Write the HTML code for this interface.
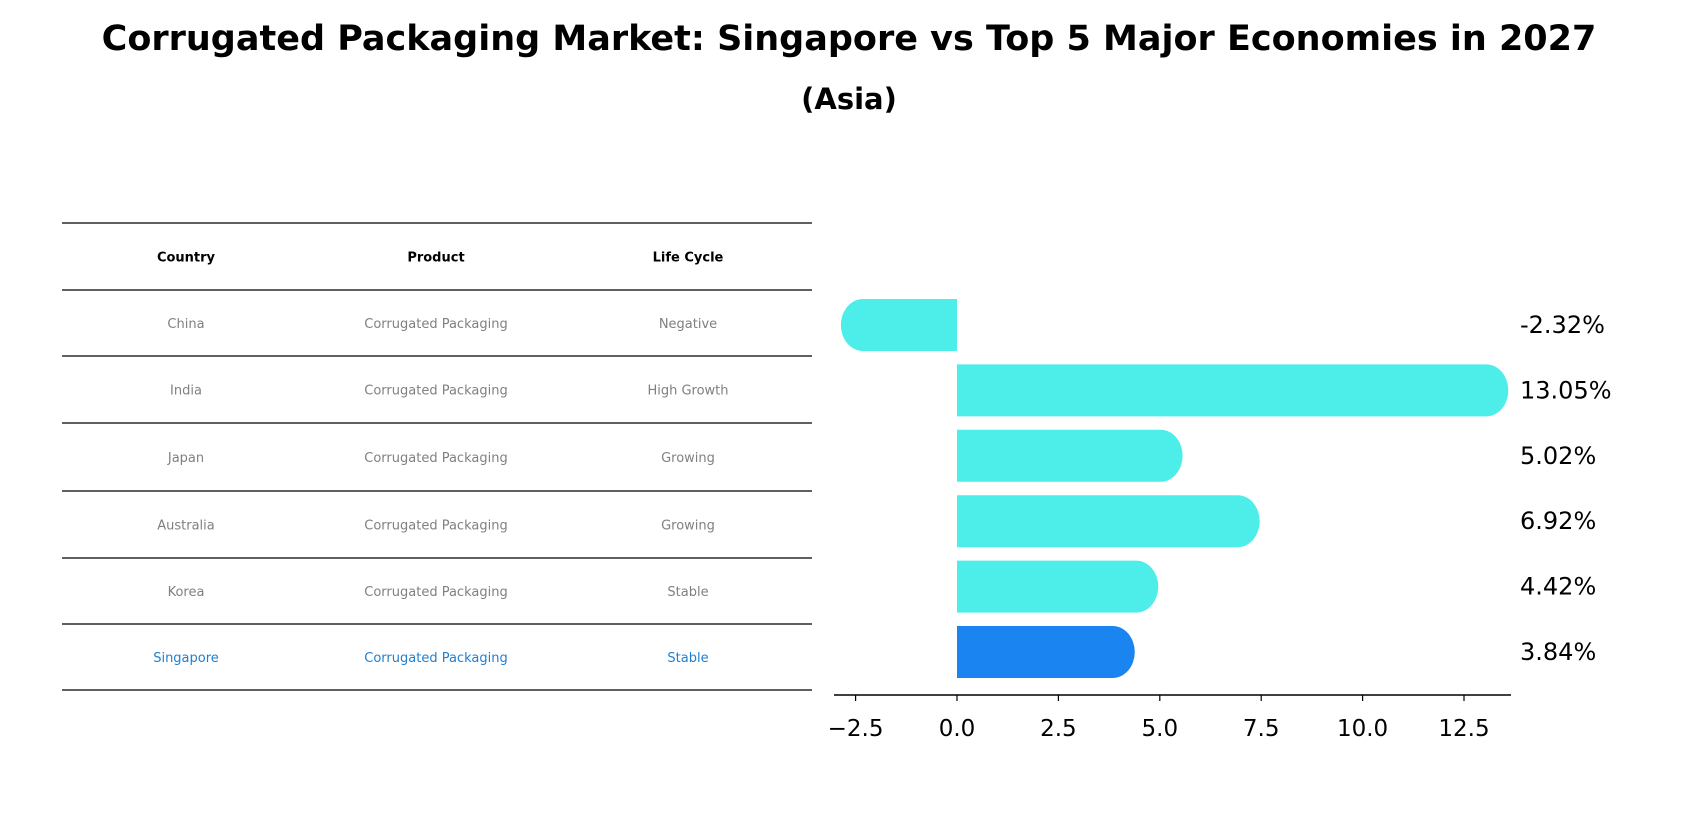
<!DOCTYPE html>
<html><head><meta charset="utf-8"><style>
body{margin:0;background:#fff;}
svg{display:block;font-family:"DejaVu Sans","Liberation Sans",sans-serif;}
</style></head><body>
<svg id="chart" width="1698" height="823" viewBox="0 0 1698 823">
<text x="849" y="50" text-anchor="middle" font-size="35" font-weight="bold">Corrugated Packaging Market: Singapore vs Top 5 Major Economies in 2027</text>
<text x="849" y="109" text-anchor="middle" font-size="29" font-weight="bold">(Asia)</text>
<g id="table"></g>
<g id="bars"></g>
</svg>
<script>
const countries=["China","India","Japan","Australia","Korea","Singapore"];
const products=["Corrugated Packaging","Corrugated Packaging","Corrugated Packaging","Corrugated Packaging","Corrugated Packaging","Corrugated Packaging"];
const lifeCycles=["Negative","High Growth","Growing","Growing","Stable","Stable"];
const values=[-2.32,13.05,5.02,6.92,4.42,3.84];
const valueLabels=["-2.32%","13.05%","5.02%","6.92%","4.42%","3.84%"];
const xTicks=[-2.5,0,2.5,5,7.5,10,12.5];
const xTickLabels=["\u22122.5","0.0","2.5","5.0","7.5","10.0","12.5"];

const NS="http://www.w3.org/2000/svg";
function mk(tag,attrs,parent,txt){const e=document.createElementNS(NS,tag);for(const k in attrs)e.setAttribute(k,attrs[k]);if(txt!==undefined)e.textContent=txt;parent.appendChild(e);return e;}
// table
const tbl=document.getElementById('table');
const lineYs=[223,290,356,423,491,558,624,690];
const colX=[186,436,688];
lineYs.forEach((y,i)=>{const l=mk('line',{x1:62,x2:812,y1:y,y2:y,stroke:'#000','stroke-width':1.2},tbl);

});
["Country","Product","Life Cycle"].forEach((h,j)=>{const t=mk('text',{x:colX[j],y:(lineYs[0]+lineYs[1])/2+5,'text-anchor':'middle','font-size':13,'font-weight':'bold'},tbl,h);

});
countries.forEach((c,i)=>{const y=(lineYs[i+1]+lineYs[i+2])/2+5;const col=c==="Singapore"?'#1f7fd0':'#808080';
[c,products[i],lifeCycles[i]].forEach((v,j)=>{const t=mk('text',{x:colX[j],y:y,'text-anchor':'middle','font-size':13,fill:col},tbl,v);

});});
// bars
const g=document.getElementById('bars');
const x0=957, unit=40.56;
const xs=v=>x0+v*unit;
const rowY=i=>325+i*65.4;
const bh=52, cap=22;
values.forEach((v,i)=>{const cy=rowY(i);const col=countries[i]==="Singapore"?'#1a85f0':'#4deeea';
const a=xs(0),b=xs(v);const dir=v>=0?1:-1;
const d=`M${a},${cy-bh/2} L${b},${cy-bh/2} A${cap},${bh/2} 0 0 ${dir>0?1:0} ${b},${cy+bh/2} L${a},${cy+bh/2} Z`;
const p=mk('path',{d:d,fill:col},g);


const t=mk('text',{x:1520,y:cy+8,'font-size':24},g,valueLabels[i]);

});
const ax=mk('line',{x1:834,x2:1511,y1:695,y2:695,stroke:'#000','stroke-width':1.5},g);


xTicks.forEach((v,i)=>{const tk=mk('line',{x1:xs(v),x2:xs(v),y1:695,y2:701,stroke:'#000','stroke-width':1.2},g);


const t=mk('text',{x:xs(v),y:736,'text-anchor':'middle','font-size':23},g,xTickLabels[i]);

});
</script>
</body></html>
